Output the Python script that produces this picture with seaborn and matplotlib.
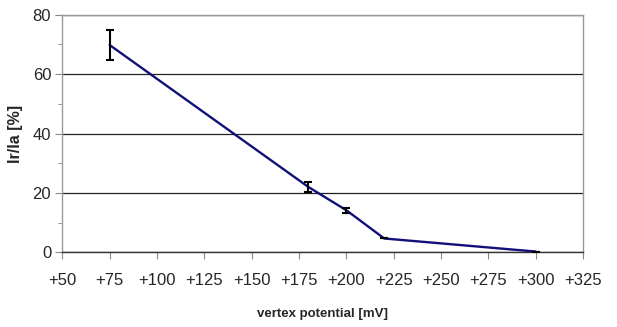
import numpy as np
import pandas as pd
import matplotlib
matplotlib.use("Agg")
import matplotlib.pyplot as plt
import seaborn as sns
from matplotlib.ticker import MultipleLocator

# data
potential = [75, 180, 200, 220, 300]
ratio = [69.8, 22.0, 14.2, 4.7, 0.3]
err = [4.9, 1.7, 0.9, 0.0, 0.0]
xticks = [50, 75, 100, 125, 150, 175, 200, 225, 250, 275, 300, 325]

df = pd.DataFrame({"potential": potential, "ratio": ratio, "err": err})

sns.set_style("white")
plt.rcParams["font.family"] = ["Liberation Sans", "DejaVu Sans"]

fig, ax = plt.subplots(figsize=(6.17, 3.27), dpi=100)
fig.subplots_adjust(left=0.101, right=0.945, top=0.955, bottom=0.228)

sns.lineplot(data=df, x="potential", y="ratio", color="#10107a", linewidth=1.7,
             ax=ax, zorder=3)
ax.errorbar(df["potential"], df["ratio"], yerr=df["err"], fmt="none",
            ecolor="black", elinewidth=1.5, capsize=3, capthick=1.5, zorder=4)

ax.set_xlim(50, 325)
ax.set_ylim(0, 80)
ax.set_xticks(xticks)
ax.set_xticklabels([f"+{v}" for v in xticks])
ax.set_yticks([0, 20, 40, 60, 80])
ax.yaxis.set_minor_locator(MultipleLocator(10))
ax.grid(axis="y", which="major", color="#222222", linewidth=0.9)
ax.set_axisbelow(True)

for side in ["left", "right", "top"]:
    ax.spines[side].set_color("#999999")
    ax.spines[side].set_linewidth(1.0)
ax.spines["bottom"].set_color("#333333")
ax.spines["bottom"].set_linewidth(1.0)

ax.tick_params(axis="x", direction="out", length=5, color="#888888",
               labelsize=12, pad=10, bottom=True)
ax.tick_params(axis="y", which="major", direction="out", length=5,
               color="#888888", labelsize=12, pad=3, left=True)
ax.tick_params(axis="y", which="minor", direction="out", length=3,
               color="#888888", left=True)

ax.set_xlabel("vertex potential [mV]", fontsize=9.5, fontweight="bold", labelpad=14)
ax.set_ylabel("Ir/Ia [%]", fontsize=11.5, fontweight="bold", labelpad=7)

fig.savefig("out.png", dpi=100)
